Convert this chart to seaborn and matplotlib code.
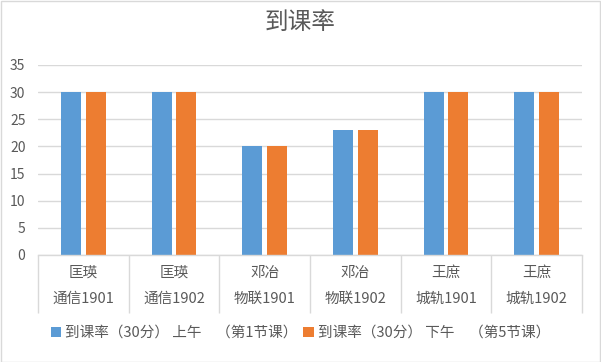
import pandas as pd
import matplotlib
matplotlib.use("Agg")
import matplotlib.pyplot as plt
import seaborn as sns
from matplotlib.patches import Rectangle

# data
teachers = ["匡瑛", "匡瑛", "邓冶", "邓冶", "王庶", "王庶"]
classes = ["通信1901", "通信1902", "物联1901", "物联1902", "城轨1901", "城轨1902"]
morning = [30, 30, 20, 23, 30, 30]
afternoon = [30, 30, 20, 23, 30, 30]
series_names = ["到课率（30分） 上午　（第1节课）", "到课率（30分） 下午　（第5节课）"]
title = "到课率"

categories = [f"{t}\n{c}" for t, c in zip(teachers, classes)]
df = pd.DataFrame({
    "cat": categories * 2,
    "val": morning + afternoon,
    "series": [series_names[0]] * len(categories) + [series_names[1]] * len(categories),
})

sns.set_theme(style="white")
plt.rcParams["font.family"] = ["Noto Sans CJK SC", "DejaVu Sans"]
text_color = "#595959"
grid_color = "#D9D9D9"

fig = plt.figure(figsize=(6.01, 3.62), dpi=100)
ax = fig.add_axes([38 / 601, 1 - 255 / 362, 544 / 601, 190 / 362])

sns.barplot(data=df, x="cat", y="val", hue="series",
            palette=["#5B9BD5", "#ED7D31"], width=0.55, gap=0.2,
            saturation=1, linewidth=0, ax=ax, legend=True)

ax.set_ylim(0, 35)
ax.set_yticks(range(0, 36, 5))
ax.set_xlim(-0.5, len(categories) - 0.5)
ax.yaxis.grid(True, color=grid_color, linewidth=1)
ax.set_axisbelow(True)
ax.set_xlabel("")
ax.set_ylabel("")
for s in ["top", "right", "left"]:
    ax.spines[s].set_visible(False)
ax.spines["bottom"].set_color(grid_color)
ax.spines["bottom"].set_linewidth(1)

ax.tick_params(axis="y", length=0, pad=9, labelsize=10, labelcolor=text_color)
ax.tick_params(axis="x", which="major", length=0, pad=8, labelsize=10.5, labelcolor=text_color)
for lab in ax.get_xticklabels():
    lab.set_linespacing(2.1)
ax.set_xticks([i - 0.5 for i in range(len(categories) + 1)], minor=True)
ax.tick_params(axis="x", which="minor", bottom=True, length=42, width=1, color=grid_color)

handles, labels = ax.get_legend_handles_labels()
ax.legend_.remove()
fig.legend(handles, labels, loc="center", bbox_to_anchor=(0.5, 1 - 333 / 362),
           ncol=2, frameon=False, fontsize=10.5, labelcolor=text_color,
           handlelength=0.7, handleheight=0.7, handletextpad=0.3, columnspacing=0.4)

fig.suptitle(title, y=1 - 22 / 362, va="center", fontsize=17, color=text_color)
fig.patches.append(Rectangle((0.001, 0.001), 0.997, 0.996, transform=fig.transFigure,
                             fill=False, edgecolor=grid_color, linewidth=1))

fig.savefig("out.png", dpi=100)
